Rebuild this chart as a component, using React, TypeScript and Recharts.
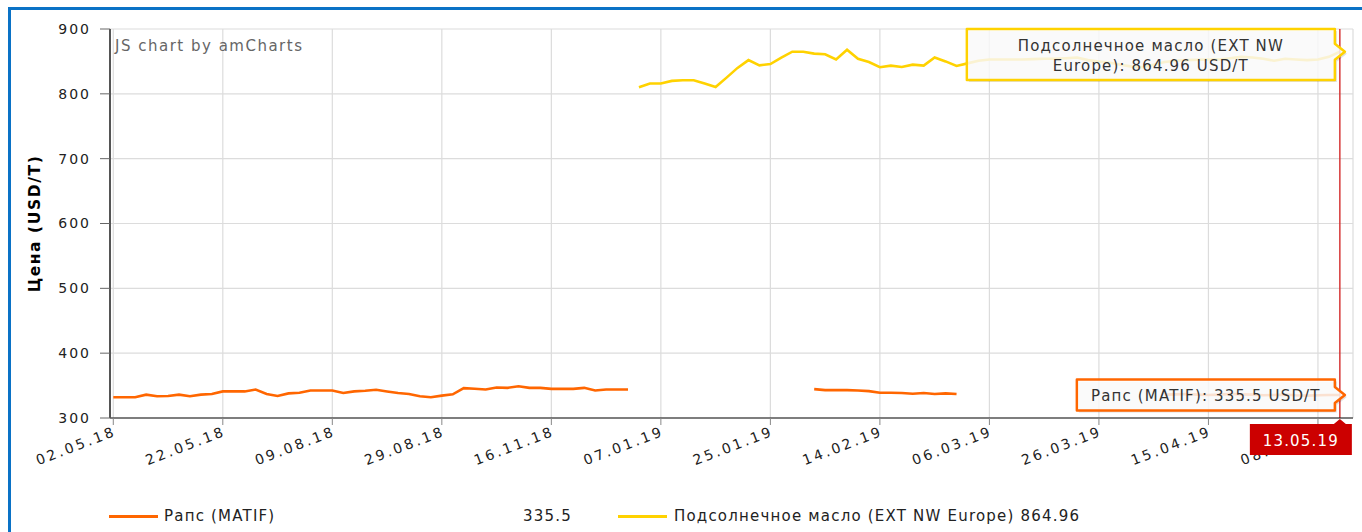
import { CartesianGrid, Line, LineChart, ReferenceDot, ReferenceLine, XAxis, YAxis } from 'recharts'

const TICK_LABELS = [
  '02.05.18', '22.05.18', '09.08.18', '29.08.18', '16.11.18', '07.01.19',
  '25.01.19', '14.02.19', '06.03.19', '26.03.19', '15.04.19', '08.05.19',
]
const POINTS_PER_LABEL = 10
const CURSOR_INDEX = 112
const CURSOR_DATE = '13.05.19'
const Y_TICKS = [300, 400, 500, 600, 700, 800, 900]
const UNIT = 'USD/T'

// Рапс (MATIF), null = no quote that day
const RAPESEED: (number | null)[] = [
  332, 332, 332, 336, 333.5, 334, 336, 333.5, 336, 337,
  341, 341, 341, 344, 337, 334, 338, 339, 342.5, 342.5,
  342.5, 338.5, 341, 342, 343.5, 341, 338.5, 337, 333.5, 332,
  334.5, 336.5, 346, 345, 344, 347, 346.5, 349, 346.5, 346.5,
  345, 345, 345, 346.5, 342.5, 344, 344, 344,
  null, null, null, null, null, null, null, null,
  null, null, null, null, null, null, null, null,
  344.5, 343, 343, 343, 342.5, 341.5, 339, 339, 338.5, 337.5,
  338.5, 337, 338, 337,
  null, null, null, null, null, null, null, null, null,
  null, null, null, null, null, null, null, null, null,
  336, 336.5, 337, 336, 335.5, 336, 337, 336.5, 336, 335,
  335.5, 336, 335, 334.5, 335, 335.5, 335.5,
]

// Подсолнечное масло (EXT NW Europe)
const SUNFLOWER: (number | null)[] = [
  null, null, null, null, null, null, null, null, null, null, null, null,
  null, null, null, null, null, null, null, null, null, null, null, null,
  null, null, null, null, null, null, null, null, null, null, null, null,
  null, null, null, null, null, null, null, null, null, null, null, null,
  810, 816, 816, 820, 821, 821, 816, 810.5, 825, 840,
  852, 844, 846, 856, 865, 865, 862, 861, 853, 868,
  854, 849, 841, 843.5, 841.5, 845, 843.5, 856, 850, 843,
  847, 851, 853, 853, 853, 853, 853.5, 854, 854, 855,
  856, 852, 850, 848, 845, 842, 841, 845, 849, 851,
  852, 852.5, 853, 853, 855, 857, 856, 854, 851, 854,
  853, 852, 853, 857, 864.96,
]

const SERIES = [
  { key: 'rapeseed', name: 'Рапс (MATIF)', color: '#ff6600', values: RAPESEED, balloonWidth: 258 },
  { key: 'sunflower', name: 'Подсолнечное масло (EXT NW Europe)', color: '#ffd200', values: SUNFLOWER, balloonWidth: 368 },
]

const chartData = RAPESEED.map((value, i) => ({ i, rapeseed: value, sunflower: SUNFLOWER[i] }))
const xTicks = TICK_LABELS.map((_, k) => k * POINTS_PER_LABEL)

const FONT = '"DejaVu Sans", Verdana, sans-serif'

function wrapWords(text: string, maxChars: number) {
  const lines: string[] = []
  let line = ''
  for (const word of text.split(' ')) {
    const next = line ? `${line} ${word}` : word
    if (next.length > maxChars && line) {
      lines.push(line)
      line = word
    } else {
      line = next
    }
  }
  if (line) lines.push(line)
  return lines
}

function Balloon({ cx, cy, text, color, width }: any) {
  const lines = wrapWords(text, 26)
  const height = lines.length * 20 + 11
  const right = cx - 5
  const left = right - width
  const top = Math.max(29, cy - height / 2)
  const bottom = top + height
  const tipX = cx + 5
  const d = `M${left},${top} H${right} V${cy - 8} L${tipX},${cy} L${right},${cy + 8} V${bottom} H${left} Z`
  return (
    <g>
      <path d={d} transform="translate(2,2)" fill="#000" fillOpacity={0.12} />
      <path d={d} fill="#fff" fillOpacity={0.82} stroke={color} strokeWidth={2.5} strokeLinejoin="round" />
      {lines.map((line, k) => (
        <text
          key={k}
          x={(left + right) / 2}
          y={top + 22 + k * 20}
          textAnchor="middle"
          fontSize={15}
          letterSpacing={1.15}
          fill="#333"
          fontFamily={FONT}
        >
          {line}
        </text>
      ))}
    </g>
  )
}

// red date flag under the cursor line, drawn from the dot placed on the x axis
function CursorFlag({ cx, cy }: any) {
  if (cx == null || cy == null) return null
  const base = cy
  return (
    <g>
      <path
        d={`M${cx - 90},${base + 6} H${cx - 6} L${cx},${base + 1} L${cx + 6},${base + 6} H${cx + 12} V${base + 37} H${cx - 90} Z`}
        fill="#cc0000"
      />
      <text x={cx - 39} y={base + 28} textAnchor="middle" fill="#fff" fontSize={15} letterSpacing={1.2} fontFamily={FONT}>
        {CURSOR_DATE}
      </text>
    </g>
  )
}

function DateTick({ x, y, payload }: any) {
  const label = TICK_LABELS[Math.round(payload.value / POINTS_PER_LABEL)]
  const tx = x + 4
  const ty = y + 8
  return (
    <text
      x={tx}
      y={ty}
      textAnchor="end"
      transform={`rotate(-21 ${tx} ${ty})`}
      fontSize={14}
      letterSpacing={2.8}
      fill="#222"
      fontFamily={FONT}
    >
      {label}
    </text>
  )
}

function YTitle({ viewBox }: any) {
  if (!viewBox) return null
  const tx = viewBox.x + 40
  const ty = viewBox.y + viewBox.height / 2
  return (
    <text
      x={tx}
      y={ty}
      textAnchor="middle"
      transform={`rotate(-90 ${tx} ${ty})`}
      fontSize={15.5}
      fontWeight="bold"
      letterSpacing={1.6}
      fill="#000"
      fontFamily={FONT}
    >
      Цена (USD/T)
    </text>
  )
}

function App() {
  return (
    <div
      style={{
        position: 'fixed',
        left: 0,
        top: 0,
        width: 1362,
        height: 532,
        overflow: 'hidden',
        background: '#fff',
        fontFamily: FONT,
      }}
    >
      <div
        style={{
          position: 'absolute',
          left: 8,
          top: 7,
          width: 1400,
          height: 600,
          borderLeft: '3px solid #0a72c6',
          borderTop: '3px solid #0a72c6',
        }}
      />
      <div style={{ position: 'absolute', left: 0, top: 0 }}>
        <LineChart width={1362} height={532} data={chartData} margin={{ top: 29, right: 9, left: 0, bottom: 0 }}>
          <CartesianGrid stroke="#dcdcdc" strokeWidth={1.2} />
          <XAxis
            dataKey="i"
            type="number"
            domain={[-0.3, 113.2]}
            allowDataOverflow
            ticks={xTicks}
            interval={0}
            height={114}
            tick={<DateTick />}
            tickSize={7}
            tickLine={{ stroke: '#888' }}
            axisLine={{ stroke: '#111', strokeWidth: 1.2 }}
          />
          <YAxis
            type="number"
            domain={[300, 900]}
            ticks={Y_TICKS}
            interval={0}
            width={110}
            tickSize={10}
            tickMargin={9}
            tick={{ fontSize: 14, fill: '#222', letterSpacing: 2, fontFamily: FONT }}
            tickLine={{ stroke: '#666' }}
            axisLine={{ stroke: '#555', strokeWidth: 2 }}
            label={{ content: <YTitle /> }}
          />
          {SERIES.map((s) => (
            <Line
              key={s.key}
              dataKey={s.key}
              type="linear"
              stroke={s.color}
              strokeWidth={2.6}
              dot={false}
              activeDot={false}
              connectNulls={false}
              isAnimationActive={false}
            />
          ))}
          <ReferenceLine x={CURSOR_INDEX} stroke="#d42a2a" strokeWidth={1.4} />
          {SERIES.map((s) => (
            <ReferenceDot
              key={`balloon-${s.key}`}
              x={CURSOR_INDEX}
              y={s.values[CURSOR_INDEX] as number}
              r={0}
              shape={(props: any) => (
                <Balloon
                  cx={props.cx}
                  cy={props.cy}
                  color={s.color}
                  width={s.balloonWidth}
                  text={`${s.name}: ${s.values[CURSOR_INDEX]} ${UNIT}`}
                />
              )}
            />
          ))}
          <ReferenceDot
            x={CURSOR_INDEX}
            y={Y_TICKS[0]}
            r={0}
            zIndex={2000}
            shape={(props: any) => <CursorFlag cx={props.cx} cy={props.cy} />}
          />
        </LineChart>
      </div>
      <div
        style={{
          position: 'absolute',
          left: 115,
          top: 37,
          fontSize: 15,
          lineHeight: '18px',
          letterSpacing: 1.5,
          color: '#666',
        }}
      >
        JS chart by amCharts
      </div>
      <div style={{ position: 'absolute', left: 0, top: 507, width: 1362, height: 20, fontSize: 15, lineHeight: '18px', color: '#222', letterSpacing: 1.2 }}>
        <span style={{ position: 'absolute', left: 109, top: 8, width: 49, height: 3, background: SERIES[0].color }} />
        <span style={{ position: 'absolute', left: 164, top: 0 }}>{SERIES[0].name}</span>
        <span style={{ position: 'absolute', right: 1362 - 572, top: 0 }}>{RAPESEED[CURSOR_INDEX]}</span>
        <span style={{ position: 'absolute', left: 618, top: 8, width: 49, height: 3, background: SERIES[1].color }} />
        <span style={{ position: 'absolute', left: 674, top: 0, whiteSpace: 'nowrap' }}>
          {SERIES[1].name} {SUNFLOWER[CURSOR_INDEX]}
        </span>
      </div>
    </div>
  )
}

export default App
